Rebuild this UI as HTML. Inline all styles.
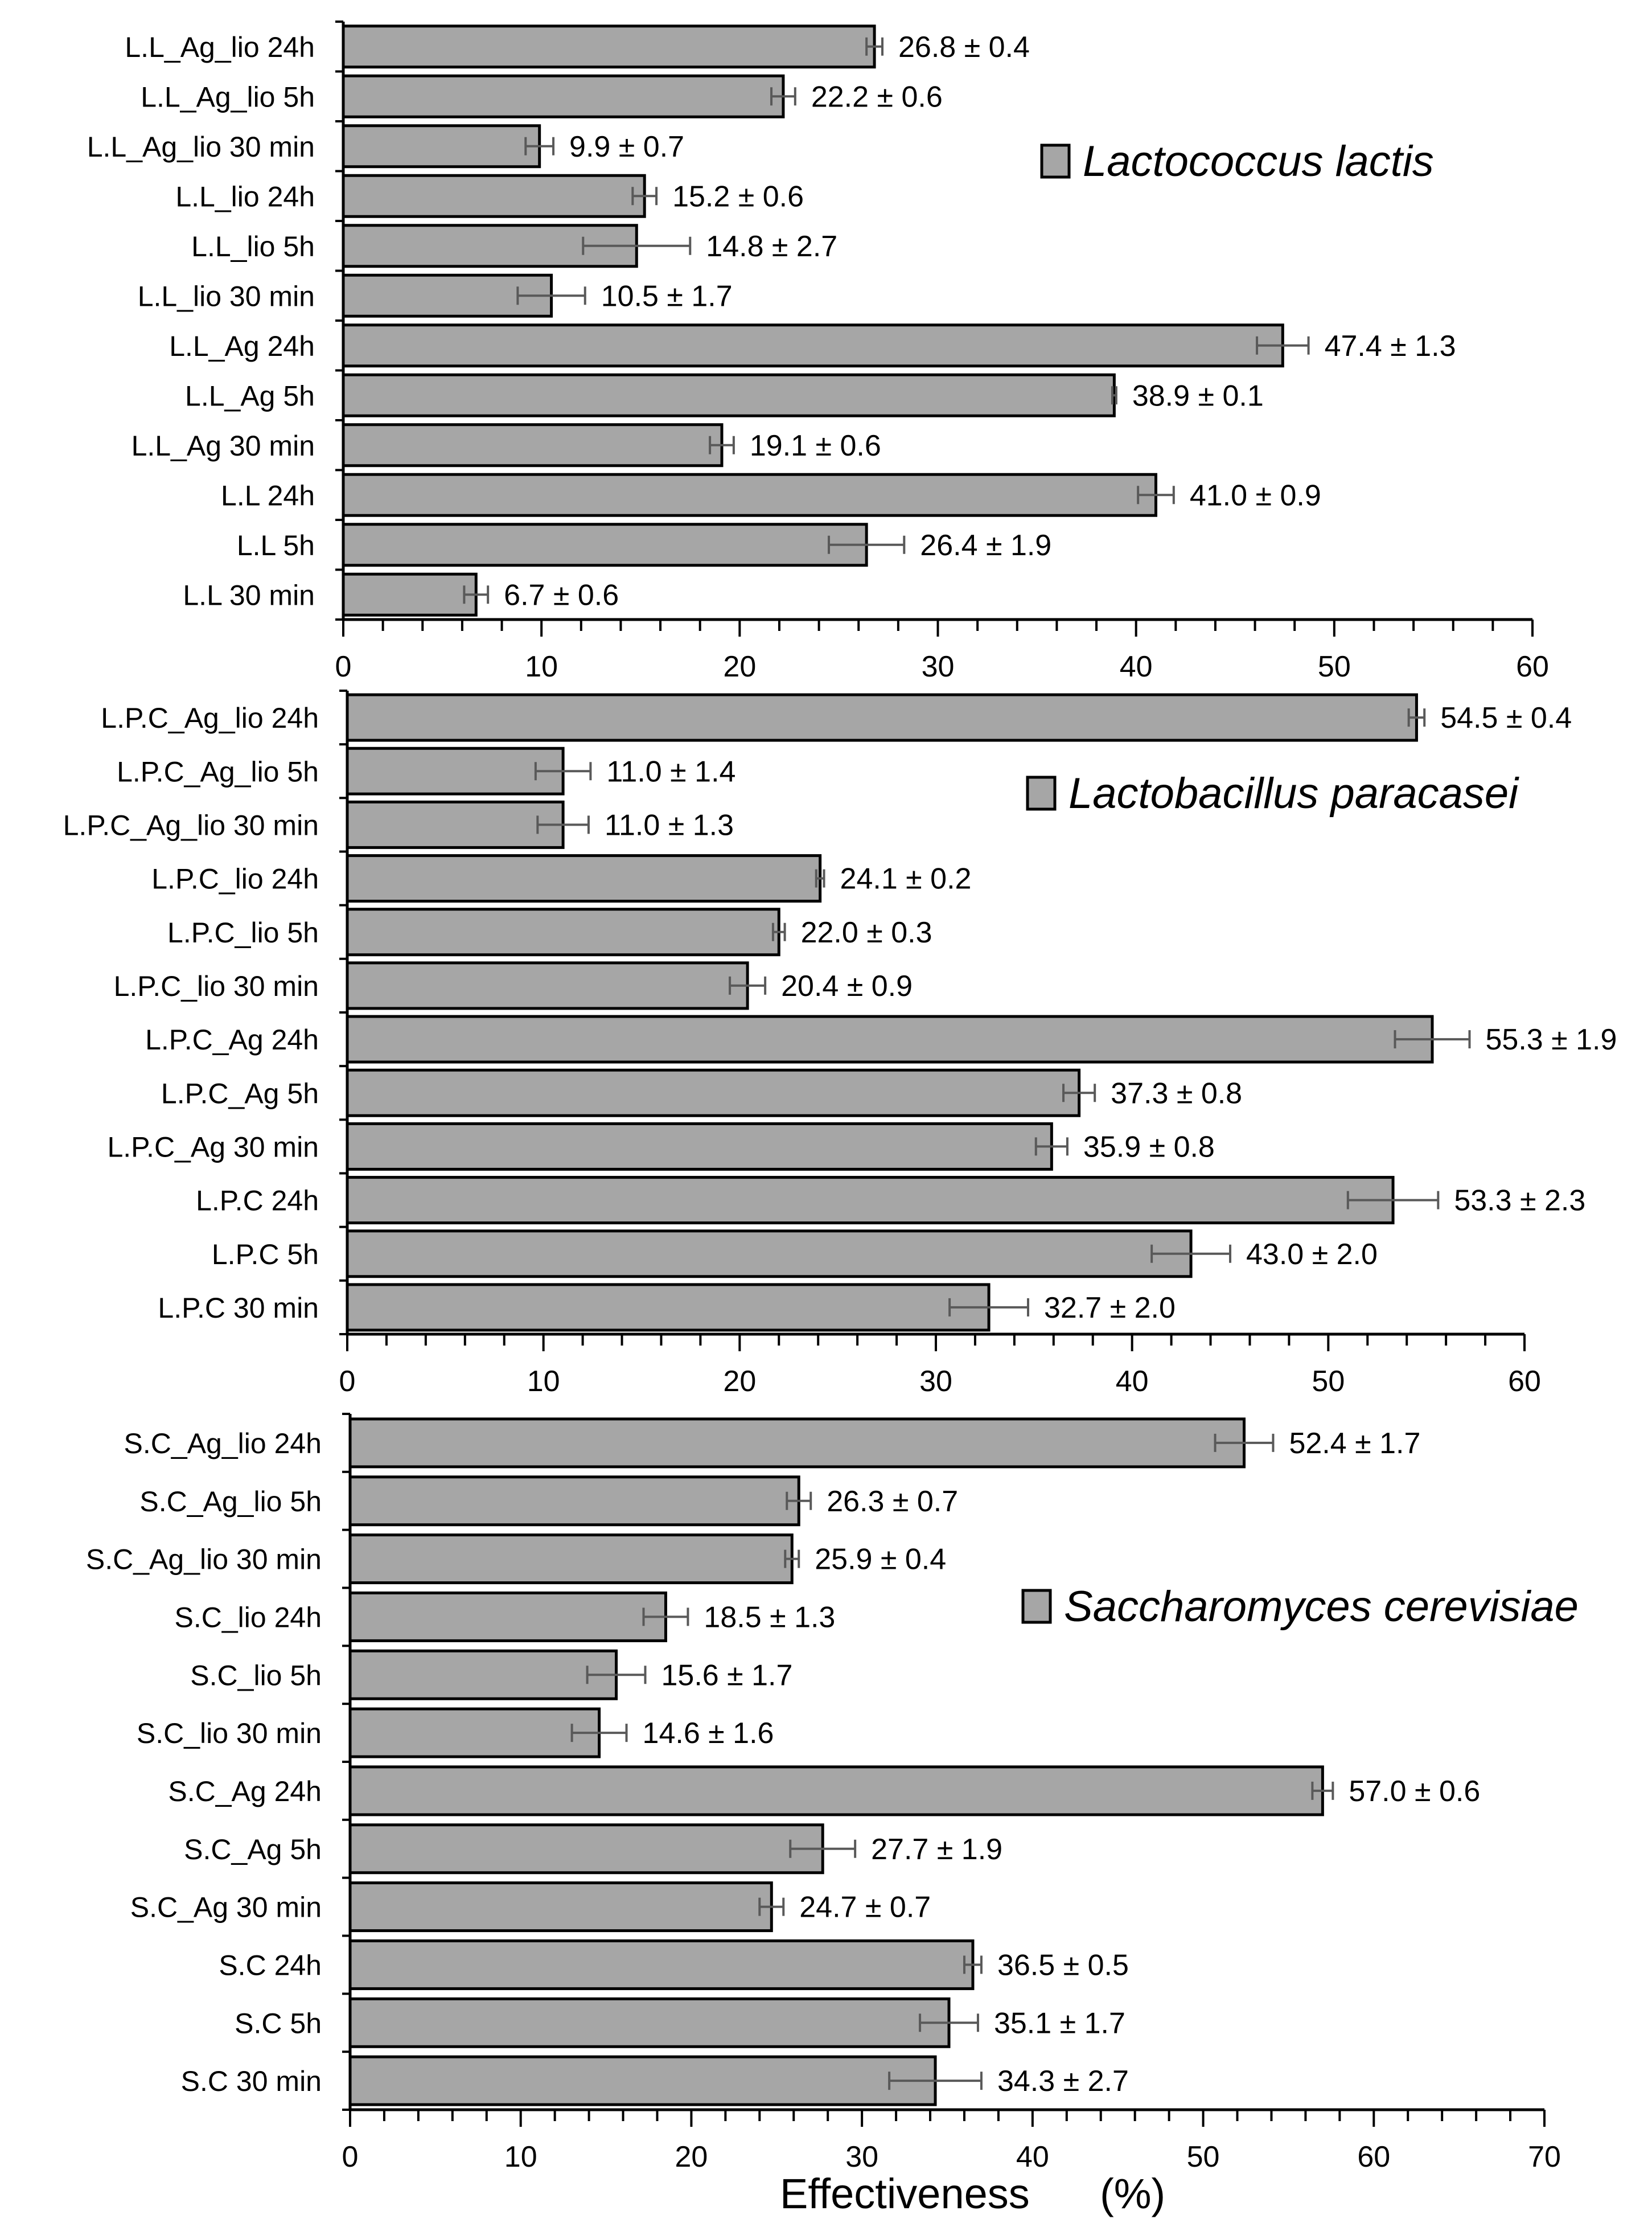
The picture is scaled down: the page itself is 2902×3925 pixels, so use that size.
<!DOCTYPE html>
<html><head><meta charset="utf-8"><style>
html,body{margin:0;padding:0;background:#fff;}
svg{display:block;font-family:"Liberation Sans",sans-serif;}
</style></head><body>
<svg id="chart" width="2902" height="3925" viewBox="0 0 2902 3925" xmlns="http://www.w3.org/2000/svg"></svg>
<script>
const catsLL = ["L.L_Ag_lio 24h","L.L_Ag_lio 5h","L.L_Ag_lio 30 min","L.L_lio 24h","L.L_lio 5h","L.L_lio 30 min","L.L_Ag 24h","L.L_Ag 5h","L.L_Ag 30 min","L.L 24h","L.L 5h","L.L 30 min"];
const valsLL = [26.8,22.2,9.9,15.2,14.8,10.5,47.4,38.9,19.1,41.0,26.4,6.7];
const errsLL = [0.4,0.6,0.7,0.6,2.7,1.7,1.3,0.1,0.6,0.9,1.9,0.6];
const catsLPC = ["L.P.C_Ag_lio 24h","L.P.C_Ag_lio 5h","L.P.C_Ag_lio 30 min","L.P.C_lio 24h","L.P.C_lio 5h","L.P.C_lio 30 min","L.P.C_Ag 24h","L.P.C_Ag 5h","L.P.C_Ag 30 min","L.P.C 24h","L.P.C 5h","L.P.C 30 min"];
const valsLPC = [54.5,11.0,11.0,24.1,22.0,20.4,55.3,37.3,35.9,53.3,43.0,32.7];
const errsLPC = [0.4,1.4,1.3,0.2,0.3,0.9,1.9,0.8,0.8,2.3,2.0,2.0];
const catsSC = ["S.C_Ag_lio 24h","S.C_Ag_lio 5h","S.C_Ag_lio 30 min","S.C_lio 24h","S.C_lio 5h","S.C_lio 30 min","S.C_Ag 24h","S.C_Ag 5h","S.C_Ag 30 min","S.C 24h","S.C 5h","S.C 30 min"];
const valsSC = [52.4,26.3,25.9,18.5,15.6,14.6,57.0,27.7,24.7,36.5,35.1,34.3];
const errsSC = [1.7,0.7,0.4,1.3,1.7,1.6,0.6,1.9,0.7,0.5,1.7,2.7];
const ticks60 = [0,10,20,30,40,50,60];
const ticks70 = [0,10,20,30,40,50,60,70];

const svg = document.getElementById('chart');
const NS = 'http://www.w3.org/2000/svg';
function mk(tag, attrs, parent){
  const e = document.createElementNS(NS, tag);
  for (const k in attrs) e.setAttribute(k, attrs[k]);
  (parent||svg).appendChild(e);
  return e;
}
function panel(cfg){
  const g = mk('g', {});
  
  
  const xmax = cfg.ticks[cfg.ticks.length-1];
  const xs = v => cfg.x0 + (v/xmax)*(cfg.x1-cfg.x0);
  const n = cfg.cats.length;
  const band = (cfg.yb - cfg.yt)/n;
  const ys = i => cfg.yt + i*band;
  cfg.cats.forEach((c,i)=>{
    const y = ys(i) + (band-cfg.bh)/2;
    const r = mk('rect', {x:cfg.x0, y:y, width:xs(cfg.vals[i])-cfg.x0, height:cfg.bh, fill:'#a6a6a6', stroke:'#000', 'stroke-width':5}, g);
    
    
    const cy = y + cfg.bh/2;
    const lo = xs(cfg.vals[i]-cfg.errs[i]), hi = xs(cfg.vals[i]+cfg.errs[i]);
    const eb = mk('path', {d:`M${lo},${cy}H${hi}M${lo},${cy-16}V${cy+16}M${hi},${cy-16}V${cy+16}`, stroke:'#595959', 'stroke-width':4, fill:'none'}, g);
    
    
    const vl = mk('text', {x:hi+28, y:cy+18, 'font-size':52, fill:'#000'}, g);
    vl.textContent = cfg.vals[i].toFixed(1) + ' ± ' + cfg.errs[i].toFixed(1);
    
    
    const cl = mk('text', {x:cfg.x0-50, y:ys(i)+band/2+18, 'font-size':50, 'text-anchor':'end', fill:'#000'}, g);
    cl.textContent = c;
    
    
  });
  const ya = mk('line', {x1:cfg.x0, y1:cfg.yt, x2:cfg.x0, y2:cfg.yb, stroke:'#000', 'stroke-width':5}, g);
  
  
  for (let i=0;i<=n;i++){
    mk('line', {x1:cfg.x0-14, y1:ys(i), x2:cfg.x0, y2:ys(i), stroke:'#000', 'stroke-width':4}, g);
  }
  const xa = mk('line', {x1:cfg.x0, y1:cfg.yb, x2:cfg.x1, y2:cfg.yb, stroke:'#000', 'stroke-width':5}, g);
  
  
  for (let v=0; v<=xmax; v+=2){
    const major = v%10===0;
    mk('line', {x1:xs(v), y1:cfg.yb, x2:xs(v), y2:cfg.yb+(major?30:20), stroke:'#000', 'stroke-width':4}, g);
  }
  cfg.ticks.forEach(t=>{
    const tl = mk('text', {x:xs(t), y:cfg.yb+100, 'font-size':52, 'text-anchor':'middle', fill:'#000'}, g);
    tl.textContent = t;
    
    
  });
  const lb = mk('rect', {x:cfg.lx, y:cfg.ly-28, width:48, height:56, fill:'#a6a6a6', stroke:'#000', 'stroke-width':5}, g);
  
  
  const lt = mk('text', {x:cfg.lx+72, y:cfg.ly+26, 'font-size':76, 'font-style':'italic', fill:'#000'}, g);
  lt.textContent = cfg.legend;
  
  
}
panel({name:'panel-lactococcus-lactis', cats:catsLL, vals:valsLL, errs:errsLL, ticks:ticks60, x0:603, x1:2692, yt:38, yb:1088, bh:72, lx:1830, ly:283, legend:'Lactococcus lactis'});
panel({name:'panel-lactobacillus-paracasei', cats:catsLPC, vals:valsLPC, errs:errsLPC, ticks:ticks60, x0:610, x1:2678, yt:1213, yb:2343, bh:80, lx:1805, ly:1393, legend:'Lactobacillus paracasei'});
panel({name:'panel-saccharomyces-cerevisiae', cats:catsSC, vals:valsSC, errs:errsSC, ticks:ticks70, x0:615, x1:2713, yt:2483, yb:3705, bh:84, lx:1797, ly:2821, legend:'Saccharomyces cerevisiae'});
const at = mk('text', {x:1370, y:3878, 'font-size':74, fill:'#000', style:'white-space:pre'});
at.textContent = 'Effectiveness      (%)';


</script>
</body></html>
